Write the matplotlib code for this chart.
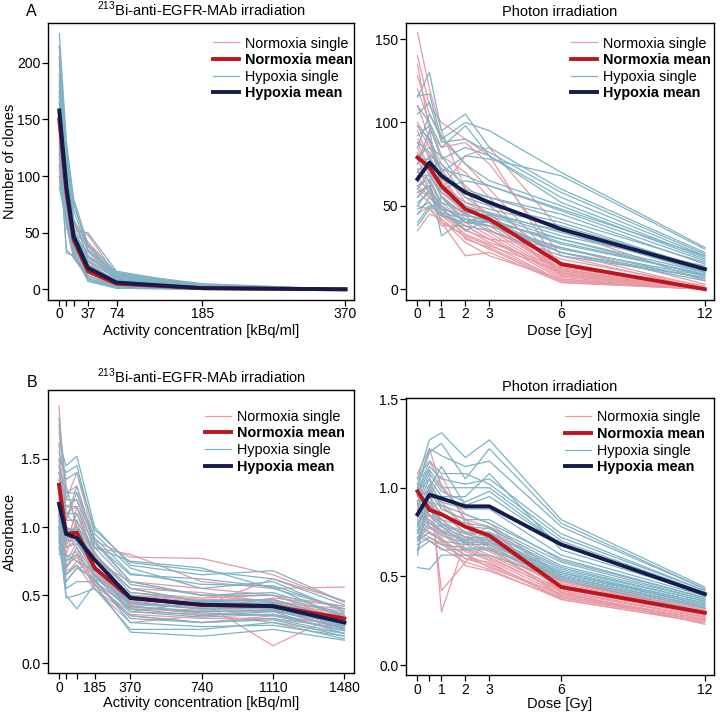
import matplotlib.pyplot as plt
from matplotlib.lines import Line2D

plt.rcParams['font.family'] = ['Liberation Sans', 'DejaVu Sans']
plt.rcParams['mathtext.fontset'] = 'custom'
plt.rcParams['mathtext.rm'] = 'Liberation Sans'

W, H = 720, 713

# ---------------- x values ----------------
conc_a = [0, 9.25, 18.5, 37, 74, 185, 370]
conc_b = [0, 37, 92.5, 185, 370, 740, 1110, 1480]
dose = [0, 0.5, 1, 2, 3, 6, 12]

# ---------------- A: number of clones, alpha ----------------
clones_alpha_norm_single = [
    [215, 120, 60, 35, 10, 3, 0],
    [180, 110, 55, 48, 12, 2, 0],
    [165, 95, 50, 40, 9, 2, 0],
    [150, 90, 45, 30, 8, 1, 0],
    [140, 85, 42, 25, 6, 1, 0],
    [125, 80, 38, 22, 5, 1, 0],
    [120, 70, 40, 18, 4, 1, 0],
    [110, 65, 35, 15, 3, 0, 0],
    [100, 60, 30, 12, 3, 0, 0],
    [95, 55, 28, 10, 2, 0, 0],
    [160, 100, 52, 20, 7, 2, 0],
    [135, 75, 44, 28, 11, 4, 0],
    [175, 105, 48, 16, 5, 1, 0],
    [205, 115, 58, 42, 14, 3, 0],
    [190, 108, 62, 38, 11, 2, 0],
    [145, 82, 47, 33, 9, 2, 0],
    [130, 78, 36, 24, 6, 1, 0],
    [115, 68, 33, 20, 5, 1, 0],
    [105, 62, 30, 14, 4, 0, 0],
]
clones_alpha_hyp_single = [
    [226, 130, 80, 40, 15, 4, 0],
    [205, 120, 78, 35, 14, 5, 0],
    [190, 110, 60, 30, 12, 3, 0],
    [180, 100, 55, 25, 10, 2, 0],
    [170, 95, 50, 22, 8, 2, 0],
    [160, 88, 48, 20, 6, 1, 0],
    [150, 80, 45, 18, 5, 1, 0],
    [140, 75, 40, 15, 4, 1, 0],
    [130, 32, 30, 12, 3, 0, 0],
    [120, 35, 28, 10, 2, 0, 0],
    [110, 65, 35, 8, 1, 0, 0],
    [90, 60, 32, 7, 1, 0, 0],
    [175, 92, 52, 50, 16, 3, 0],
    [215, 125, 75, 38, 13, 4, 0],
    [198, 115, 70, 34, 12, 3, 0],
    [185, 105, 62, 28, 11, 2, 0],
    [165, 90, 50, 26, 9, 2, 0],
    [155, 85, 46, 21, 7, 1, 0],
    [145, 78, 42, 16, 5, 1, 0],
    [125, 70, 38, 12, 3, 0, 0],
    [100, 58, 30, 9, 2, 0, 0],
]
clones_alpha_norm_mean = [150, 86, 44, 16, 5, 1, 0]
clones_alpha_hyp_mean = [158, 90, 47, 19, 6, 1, 0]

# ---------------- A: number of clones, photons ----------------
clones_photon_norm_single = [
    [154, 120, 95, 60, 40, 10, 0],
    [140, 110, 100, 90, 80, 12, 0],
    [135, 95, 85, 88, 75, 20, 0],
    [120, 100, 80, 70, 55, 8, 0],
    [98, 85, 70, 55, 45, 15, 0],
    [90, 80, 65, 50, 42, 22, 1],
    [85, 70, 60, 45, 40, 12, 0],
    [80, 75, 55, 42, 35, 18, 2],
    [70, 65, 50, 40, 38, 10, 0],
    [65, 60, 45, 35, 30, 9, 0],
    [60, 55, 50, 30, 25, 5, 0],
    [55, 62, 40, 20, 22, 4, 0],
    [45, 50, 38, 38, 30, 25, 3],
    [35, 45, 42, 28, 20, 6, 0],
    [75, 90, 60, 80, 85, 35, 5],
    [128, 105, 90, 75, 60, 14, 0],
    [110, 90, 75, 62, 50, 16, 0],
    [100, 88, 72, 52, 45, 12, 0],
    [95, 78, 68, 48, 40, 11, 0],
    [88, 72, 58, 46, 36, 9, 0],
    [82, 68, 56, 44, 34, 8, 0],
    [78, 64, 52, 40, 32, 7, 0],
    [72, 60, 48, 38, 30, 6, 0],
    [68, 58, 46, 36, 28, 13, 1],
    [62, 56, 44, 33, 27, 5, 0],
    [58, 52, 42, 31, 24, 4, 0],
    [50, 48, 40, 32, 26, 11, 0],
]
clones_photon_hyp_single = [
    [116, 117, 90, 100, 95, 70, 25],
    [115, 130, 95, 105, 85, 60, 22],
    [110, 100, 85, 98, 80, 55, 20],
    [98, 90, 70, 80, 78, 68, 24],
    [85, 105, 92, 75, 65, 50, 18],
    [80, 85, 80, 60, 55, 45, 15],
    [70, 80, 75, 55, 50, 40, 12],
    [65, 75, 60, 50, 45, 35, 10],
    [60, 70, 55, 45, 40, 30, 8],
    [55, 65, 32, 42, 38, 25, 6],
    [50, 60, 50, 40, 40, 22, 5],
    [45, 55, 48, 35, 42, 28, 9],
    [40, 50, 45, 38, 35, 20, 7],
    [38, 48, 55, 40, 45, 32, 14],
    [75, 95, 60, 65, 62, 48, 20],
    [105, 112, 88, 90, 82, 58, 21],
    [92, 98, 78, 85, 80, 52, 19],
    [88, 82, 72, 68, 62, 47, 17],
    [78, 78, 66, 58, 55, 42, 16],
    [72, 72, 62, 52, 48, 38, 13],
    [68, 68, 58, 48, 46, 34, 11],
    [62, 66, 52, 46, 44, 30, 10],
    [58, 62, 48, 44, 42, 27, 9],
    [52, 58, 46, 42, 40, 24, 8],
    [48, 52, 44, 40, 38, 22, 7],
]
clones_photon_norm_mean = [79, 73, 62, 48, 42, 15, 0]
clones_photon_hyp_mean = [66, 76, 68, 58, 52, 36, 12]

# ---------------- B: absorbance, alpha ----------------
abs_alpha_norm_single = [
    [1.89, 1.10, 1.00, 0.80, 0.55, 0.45, 0.40, 0.35],
    [1.75, 1.20, 1.40, 0.90, 0.78, 0.77, 0.65, 0.45],
    [1.60, 1.05, 1.25, 0.85, 0.80, 0.60, 0.55, 0.56],
    [1.50, 0.90, 1.10, 0.75, 0.60, 0.50, 0.45, 0.40],
    [1.40, 1.00, 0.95, 0.70, 0.50, 0.45, 0.13, 0.38],
    [1.30, 0.85, 0.90, 0.65, 0.45, 0.40, 0.42, 0.35],
    [1.25, 0.80, 1.05, 0.60, 0.40, 0.38, 0.38, 0.30],
    [1.20, 0.95, 0.85, 0.58, 0.35, 0.30, 0.35, 0.28],
    [1.15, 0.70, 0.80, 0.55, 0.30, 0.35, 0.40, 0.25],
    [1.10, 0.65, 0.75, 0.62, 0.48, 0.42, 0.62, 0.46],
    [1.05, 0.75, 0.88, 0.68, 0.52, 0.48, 0.50, 0.32],
    [1.00, 0.60, 0.70, 0.72, 0.42, 0.36, 0.30, 0.22],
    [0.95, 0.85, 1.15, 0.78, 0.55, 0.52, 0.45, 0.36],
    [1.35, 1.15, 1.20, 0.82, 0.46, 0.40, 0.48, 0.42],
    [1.70, 1.25, 1.30, 0.88, 0.60, 0.55, 0.50, 0.42],
    [1.45, 1.10, 1.15, 0.76, 0.50, 0.47, 0.46, 0.38],
    [1.28, 0.98, 1.00, 0.70, 0.47, 0.44, 0.44, 0.34],
    [1.22, 0.90, 0.92, 0.66, 0.44, 0.42, 0.42, 0.33],
    [1.18, 0.88, 0.96, 0.64, 0.43, 0.41, 0.41, 0.31],
    [1.12, 0.78, 0.82, 0.60, 0.41, 0.39, 0.39, 0.29],
    [1.08, 0.72, 0.78, 0.57, 0.38, 0.36, 0.36, 0.27],
    [0.98, 0.68, 0.72, 0.54, 0.36, 0.33, 0.33, 0.26],
]
abs_alpha_hyp_single = [
    [1.80, 1.30, 1.00, 0.85, 0.75, 0.70, 0.55, 0.40],
    [1.62, 1.45, 1.52, 1.00, 0.72, 0.65, 0.68, 0.45],
    [1.50, 1.40, 1.45, 0.95, 0.70, 0.55, 0.60, 0.38],
    [1.40, 1.20, 1.20, 0.90, 0.60, 0.50, 0.50, 0.35],
    [1.30, 1.10, 1.10, 0.80, 0.55, 0.45, 0.45, 0.30],
    [1.20, 0.95, 1.00, 0.75, 0.50, 0.42, 0.42, 0.28],
    [1.10, 0.90, 0.90, 0.70, 0.45, 0.40, 0.40, 0.25],
    [1.05, 0.70, 0.85, 0.65, 0.40, 0.35, 0.38, 0.22],
    [1.00, 0.55, 0.60, 0.60, 0.35, 0.30, 0.32, 0.20],
    [0.95, 0.48, 0.50, 0.55, 0.25, 0.25, 0.30, 0.18],
    [0.90, 0.50, 0.40, 0.58, 0.23, 0.20, 0.25, 0.17],
    [0.85, 0.60, 0.70, 0.62, 0.30, 0.27, 0.28, 0.20],
    [0.80, 0.80, 0.75, 0.68, 0.42, 0.37, 0.35, 0.24],
    [1.15, 1.05, 1.30, 0.88, 0.65, 0.62, 0.56, 0.33],
    [1.25, 1.00, 0.95, 0.72, 0.38, 0.45, 0.47, 0.30],
    [1.55, 1.35, 1.40, 0.98, 0.74, 0.68, 0.62, 0.43],
    [1.45, 1.25, 1.25, 0.92, 0.66, 0.58, 0.57, 0.40],
    [1.35, 1.15, 1.15, 0.85, 0.58, 0.50, 0.52, 0.36],
    [1.28, 1.05, 1.05, 0.80, 0.52, 0.46, 0.47, 0.32],
    [1.18, 0.98, 0.98, 0.76, 0.48, 0.44, 0.44, 0.29],
    [1.12, 0.92, 0.95, 0.72, 0.44, 0.40, 0.41, 0.27],
    [1.08, 0.85, 0.88, 0.68, 0.42, 0.38, 0.39, 0.26],
    [1.02, 0.75, 0.80, 0.64, 0.38, 0.34, 0.36, 0.24],
    [0.92, 0.65, 0.72, 0.60, 0.33, 0.30, 0.33, 0.22],
]
abs_alpha_norm_mean = [1.31, 0.95, 0.96, 0.70, 0.48, 0.43, 0.42, 0.33]
abs_alpha_hyp_mean = [1.17, 0.95, 0.92, 0.76, 0.48, 0.43, 0.42, 0.30]

# ---------------- B: absorbance, photons ----------------
abs_photon_norm_single = [
    [1.08, 1.22, 1.00, 0.85, 0.80, 0.50, 0.33],
    [1.05, 1.10, 0.30, 0.70, 0.75, 0.48, 0.32],
    [1.02, 1.00, 0.42, 0.58, 0.70, 0.47, 0.31],
    [1.00, 0.95, 1.07, 0.80, 0.72, 0.46, 0.30],
    [0.95, 0.90, 0.85, 0.75, 0.68, 0.45, 0.30],
    [0.92, 0.85, 0.80, 0.70, 0.65, 0.44, 0.29],
    [0.90, 0.80, 0.78, 0.68, 0.62, 0.43, 0.28],
    [0.88, 0.78, 0.75, 0.65, 0.60, 0.42, 0.27],
    [0.85, 0.82, 0.70, 0.62, 0.55, 0.40, 0.26],
    [0.80, 0.75, 0.72, 0.56, 0.53, 0.38, 0.25],
    [0.75, 0.70, 0.68, 0.60, 0.58, 0.37, 0.24],
    [0.70, 0.88, 0.82, 0.72, 0.78, 0.41, 0.23],
    [0.65, 0.92, 0.90, 0.78, 0.66, 0.39, 0.26],
    [0.98, 1.05, 0.88, 0.82, 0.70, 0.48, 0.31],
    [1.06, 1.15, 1.02, 0.82, 0.78, 0.49, 0.32],
    [0.96, 0.98, 0.92, 0.78, 0.74, 0.47, 0.30],
    [0.93, 0.92, 0.86, 0.74, 0.70, 0.45, 0.29],
    [0.91, 0.88, 0.82, 0.72, 0.67, 0.44, 0.28],
    [0.87, 0.84, 0.78, 0.69, 0.64, 0.42, 0.27],
    [0.84, 0.80, 0.76, 0.66, 0.61, 0.41, 0.27],
    [0.82, 0.77, 0.74, 0.64, 0.59, 0.40, 0.26],
    [0.78, 0.74, 0.71, 0.62, 0.57, 0.39, 0.25],
    [0.76, 0.72, 0.69, 0.60, 0.56, 0.38, 0.25],
    [0.72, 0.70, 0.66, 0.58, 0.54, 0.37, 0.24],
]
abs_photon_hyp_single = [
    [1.05, 1.27, 1.31, 1.17, 1.27, 0.82, 0.44],
    [1.00, 1.20, 1.25, 1.05, 1.22, 0.80, 0.43],
    [0.98, 1.15, 1.08, 1.08, 1.02, 0.72, 0.42],
    [0.95, 1.10, 1.00, 1.00, 1.00, 0.70, 0.41],
    [0.90, 1.05, 0.95, 0.95, 1.08, 0.65, 0.40],
    [0.85, 1.00, 0.90, 0.85, 0.80, 0.60, 0.38],
    [0.80, 0.95, 0.85, 0.80, 0.78, 0.58, 0.37],
    [0.78, 0.90, 0.80, 0.75, 0.75, 0.55, 0.36],
    [0.75, 0.85, 0.78, 0.72, 0.72, 0.53, 0.35],
    [0.72, 0.80, 0.75, 0.70, 0.70, 0.52, 0.34],
    [0.70, 0.75, 0.70, 0.68, 0.68, 0.50, 0.33],
    [0.65, 0.70, 0.65, 0.65, 0.65, 0.49, 0.32],
    [0.55, 0.54, 0.62, 0.62, 0.62, 0.48, 0.30],
    [0.62, 1.00, 1.12, 0.90, 0.95, 0.68, 0.39],
    [1.02, 1.22, 1.18, 1.12, 1.15, 0.78, 0.43],
    [0.97, 1.12, 1.05, 1.02, 1.05, 0.74, 0.42],
    [0.92, 1.08, 0.98, 0.92, 0.98, 0.68, 0.41],
    [0.88, 1.02, 0.92, 0.88, 0.88, 0.62, 0.39],
    [0.83, 0.98, 0.88, 0.82, 0.82, 0.59, 0.38],
    [0.79, 0.92, 0.82, 0.78, 0.77, 0.56, 0.37],
    [0.76, 0.88, 0.79, 0.74, 0.74, 0.54, 0.36],
    [0.74, 0.82, 0.76, 0.71, 0.71, 0.52, 0.35],
    [0.71, 0.78, 0.73, 0.69, 0.69, 0.51, 0.34],
    [0.68, 0.72, 0.68, 0.66, 0.66, 0.50, 0.33],
]
abs_photon_norm_mean = [0.98, 0.875, 0.85, 0.78, 0.73, 0.44, 0.295]
abs_photon_hyp_mean = [0.85, 0.96, 0.94, 0.895, 0.895, 0.68, 0.40]

# ticks
ticks_a = [0, 9.25, 18.5, 37, 74, 185, 370]
ticklabels_a = ['0', '', '', '37', '74', '185', '370']
ticks_b = [0, 37, 92.5, 185, 370, 740, 1110, 1480]
ticklabels_b = ['0', '', '', '185', '370', '740', '1110', '1480']
ticks_dose = [0, 0.5, 1, 2, 3, 6, 12]
ticklabels_dose = ['0', '', '1', '2', '3', '6', '12']

labels = ['Normoxia single', 'Normoxia mean', 'Hypoxia single', 'Hypoxia mean']

# colours
c_norm_single = '#E89AA5'
c_norm_mean = '#C0141C'
c_hyp_single = '#7DB3C4'
c_hyp_mean = '#161B4D'

alpha_title = r'$^{\mathregular{213}}$Bi-anti-EGFR-MAb irradiation'


def px_axes(l, t, r, b):
    # pixel box -> figure fraction
    return fig.add_axes([l / W, 1 - b / H, (r - l) / W, (b - t) / H])


def panel(ax, x, ns, nm, hs, hm, xlim, ylim, xt, xtl, yt, ytl, title, leg_x, leg_y):
    for row in ns:
        ax.plot(x, row, color=c_norm_single, lw=0.9, zorder=2)
    for row in hs:
        ax.plot(x, row, color=c_hyp_single, lw=0.9, zorder=3)
    ax.plot(x, nm, color=c_norm_mean, lw=2.8, zorder=4, solid_joinstyle='round')
    ax.plot(x, hm, color=c_hyp_mean, lw=2.8, zorder=5, solid_joinstyle='round')

    ax.set_xlim(*xlim)
    ax.set_ylim(*ylim)
    ax.set_xticks(xt)
    ax.set_xticklabels(xtl)
    ax.set_yticks(yt)
    ax.set_yticklabels(ytl)
    ax.tick_params(direction='out', length=4.5, width=0.9, labelsize=10, pad=1, colors='black')
    for s in ax.spines.values():
        s.set_linewidth(1.0)
    ax.set_title(title, fontsize=10.5, pad=5)

    handles = [Line2D([], [], color=c_norm_single, lw=0.9),
               Line2D([], [], color=c_norm_mean, lw=2.8),
               Line2D([], [], color=c_hyp_single, lw=0.9),
               Line2D([], [], color=c_hyp_mean, lw=2.8)]
    leg = ax.legend(handles, labels, loc='upper right', bbox_to_anchor=(leg_x, leg_y),
                    frameon=False, fontsize=10.4, handlelength=1.8, handletextpad=0.4,
                    labelspacing=0.18, borderaxespad=0, borderpad=0)
    for i in (1, 3):
        leg.get_texts()[i].set_fontweight('bold')


fig = plt.figure(figsize=(W / 100, H / 100), dpi=100, facecolor='white')

# A left
ax1 = px_axes(48, 22.7, 354, 299.5)
panel(ax1, conc_a, clones_alpha_norm_single, clones_alpha_norm_mean,
      clones_alpha_hyp_single, clones_alpha_hyp_mean,
      (-14.6, 381), (-9, 235.5), ticks_a, ticklabels_a,
      [0, 50, 100, 150, 200], ['0', '50', '100', '150', '200'],
      alpha_title, 0.995, 0.95)
ax1.set_ylabel('Number of clones', fontsize=10.5)
ax1.yaxis.set_label_coords(-0.1, 0.5)

# A right
ax2 = px_axes(406, 22.7, 714, 299.5)
panel(ax2, dose, clones_photon_norm_single, clones_photon_norm_mean,
      clones_photon_hyp_single, clones_photon_hyp_mean,
      (-0.48, 12.38), (-6.2, 159.8), ticks_dose, ticklabels_dose,
      [0, 50, 100, 150], ['0', '50', '100', '150'],
      'Photon irradiation', 0.99, 0.95)

# B left
ax3 = px_axes(48, 390, 354, 673)
panel(ax3, conc_b, abs_alpha_norm_single, abs_alpha_norm_mean,
      abs_alpha_hyp_single, abs_alpha_hyp_mean,
      (-57, 1530), (-0.07, 2.005), ticks_b, ticklabels_b,
      [0, 0.5, 1.0, 1.5], ['0.0', '0.5', '1.0', '1.5'],
      alpha_title, 0.97, 0.93)
ax3.set_ylabel('Absorbance', fontsize=10.5)
ax3.yaxis.set_label_coords(-0.1, 0.5)

# B right
ax4 = px_axes(406, 398, 714, 675)
panel(ax4, dose, abs_photon_norm_single, abs_photon_norm_mean,
      abs_photon_hyp_single, abs_photon_hyp_mean,
      (-0.48, 12.38), (-0.056, 1.506), ticks_dose, ticklabels_dose,
      [0, 0.5, 1.0, 1.5], ['0.0', '0.5', '1.0', '1.5'],
      'Photon irradiation', 0.97, 0.955)

# x labels and panel letters (pixel positions)
fig.text(201 / W, 1 - 331 / H, 'Activity concentration [kBq/ml]', ha='center', va='center', fontsize=10.5)
fig.text(560 / W, 1 - 331 / H, 'Dose [Gy]', ha='center', va='center', fontsize=10.5)
fig.text(201 / W, 1 - 703 / H, 'Activity concentration [kBq/ml]', ha='center', va='center', fontsize=10.5)
fig.text(560 / W, 1 - 704 / H, 'Dose [Gy]', ha='center', va='center', fontsize=10.5)
fig.text(31 / W, 1 - 12 / H, 'A', ha='center', va='center', fontsize=11.5)
fig.text(32 / W, 1 - 383 / H, 'B', ha='center', va='center', fontsize=11.5)

fig.savefig('out.png', dpi=100, facecolor='white')
